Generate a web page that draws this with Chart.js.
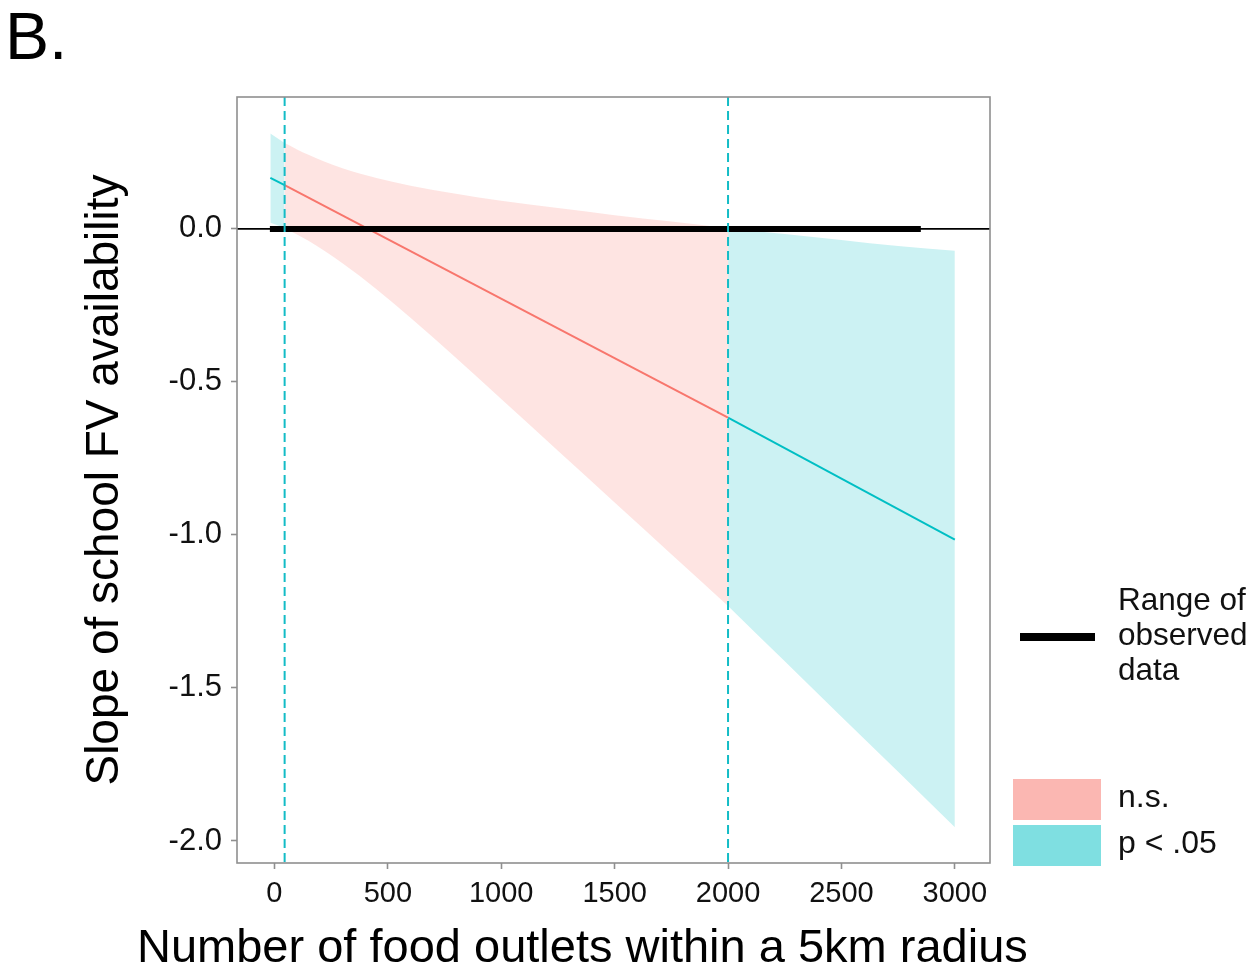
<!DOCTYPE html>
<html>
<head>
<meta charset="utf-8">
<script src="https://cdn.jsdelivr.net/npm/chart.js@4.4.0/dist/chart.umd.min.js"></script>
<style>
html,body{margin:0;padding:0;background:#fff;}
#wrap{position:relative;width:1260px;height:976px;overflow:hidden;font-family:"Liberation Sans",Arial,Helvetica,sans-serif;color:#000;}
#c{position:absolute;left:0;top:0;}
.lbl{position:absolute;white-space:nowrap;color:#111;}
.swatch{position:absolute;}
</style>
</head>
<body>
<div id="wrap">
<canvas id="c" width="1260" height="976"></canvas>
<div class="lbl" style="left:5px;top:0px;font-size:66px;line-height:72px;color:#000;">B.</div>
<div class="lbl" style="left:137px;top:922px;font-size:47px;line-height:47px;color:#000;">Number of food outlets within a 5km radius</div>
<div class="swatch" style="left:1020px;top:633px;width:75px;height:8px;background:#000;"></div>
<div class="lbl" style="left:1118px;top:582px;font-size:31.5px;line-height:35px;">Range of<br>observed<br>data</div>
<div class="swatch" style="left:1013px;top:779px;width:88px;height:41px;background:#FBB7B2;"></div>
<div class="swatch" style="left:1013px;top:825px;width:88px;height:41px;background:#7FDFE1;"></div>
<div class="lbl" style="left:1118px;top:779px;font-size:32px;line-height:35px;">n.s.</div>
<div class="lbl" style="left:1118px;top:825px;font-size:32px;line-height:35px;">p &lt; .05</div>
</div>
<script>
// ---- data ----
const xTicks = [0, 500, 1000, 1500, 2000, 2500, 3000];
const xTickLabels = ['0', '500', '1000', '1500', '2000', '2500', '3000'];
const yTicks = [-2.0, -1.5, -1.0, -0.5, 0.0];
const yTickLabels = ['-2.0', '-1.5', '-1.0', '-0.5', '0.0'];

// confidence band, significant (low end)
const xSigLow = [-18, 45];
const upperSigLow = [0.312, 0.281];
const lowerSigLow = [0.020, 0.003];

// confidence band, not significant
const xNS = [45, 150, 300, 450, 600, 800, 1000, 1250, 1500, 1750, 2000];
const upperNS = [0.281, 0.242, 0.198, 0.166, 0.141, 0.115, 0.092, 0.068, 0.045, 0.024, 0.002];
const lowerNS = [0.003, -0.039, -0.112, -0.197, -0.290, -0.421, -0.556, -0.725, -0.894, -1.063, -1.232];

// confidence band, significant (high end)
const xSigHigh = [2000, 2250, 2500, 2750, 3000];
const upperSigHigh = [0.002, -0.017, -0.036, -0.056, -0.071];
const lowerSigHigh = [-1.232, -1.413, -1.594, -1.774, -1.955];

// simple slope line
const xSlopeLow = [-18, 45];
const slopeLow = [0.167, 0.143];
const xSlopeNS = [45, 2000];
const slopeNS = [0.143, -0.617];
const xSlopeHigh = [2000, 3000];
const slopeHigh = [-0.617, -1.015];

// range of observed data
const xObserved = [-20, 2850];
const yObserved = [0, 0];

// Johnson-Neyman boundaries and reference line
const jnBoundaries = [45, 2000];
const refLineY = 0;

const xRange = [-165, 3155];
const yRange = [-2.072, 0.431];

// ---- colours ----
const PINK = '#F8766D', CYAN = '#00BFC4';
const PINK_FILL = 'rgba(248,118,109,0.2)', CYAN_FILL = 'rgba(0,191,196,0.2)';

const pts = (xs, ys) => xs.map((x, i) => ({x: x, y: ys[i]}));
const band = (xs, lo, up, fill) => [
  {data: pts(xs, lo), borderWidth: 0, pointRadius: 0, fill: false, borderColor: 'rgba(0,0,0,0)', cubicInterpolationMode: 'monotone'},
  {data: pts(xs, up), borderWidth: 0, pointRadius: 0, fill: '-1', backgroundColor: fill, borderColor: 'rgba(0,0,0,0)', cubicInterpolationMode: 'monotone'}
];
const line = (xs, ys, col, w) => ({data: pts(xs, ys), borderColor: col, borderWidth: w, pointRadius: 0, fill: false, borderCapStyle: 'butt', tension: 0});

const datasets = [
  ...band(xSigLow, lowerSigLow, upperSigLow, CYAN_FILL),
  ...band(xNS, lowerNS, upperNS, PINK_FILL),
  ...band(xSigHigh, lowerSigHigh, upperSigHigh, CYAN_FILL),
];
datasets.forEach(d => d.order = 10);
datasets.push(Object.assign(line(xSlopeLow, slopeLow, CYAN, 2), {order: 2}));
datasets.push(Object.assign(line(xSlopeNS, slopeNS, PINK, 2), {order: 2}));
datasets.push(Object.assign(line(xSlopeHigh, slopeHigh, CYAN, 2), {order: 2}));
datasets.push(Object.assign(line(xObserved, yObserved, '#000', 6), {order: 1}));

const refPlugin = {
  id: 'refs',
  beforeDatasetsDraw(chart) {
    const {ctx, chartArea: a, scales: {x, y}} = chart;
    ctx.save();
    ctx.strokeStyle = '#000';
    ctx.lineWidth = 1.6;
    const py = y.getPixelForValue(refLineY);
    ctx.beginPath(); ctx.moveTo(a.left, py); ctx.lineTo(a.right, py); ctx.stroke();
    ctx.restore();
  },
  afterDatasetsDraw(chart) {
    const {ctx, chartArea: a, scales: {x, y}} = chart;
    ctx.save();
    ctx.strokeStyle = '#13BCC6';
    ctx.lineWidth = 2;
    ctx.setLineDash([9, 5]);
    jnBoundaries.forEach(v => {
      const px = x.getPixelForValue(v);
      ctx.beginPath(); ctx.moveTo(px, a.top); ctx.lineTo(px, a.bottom); ctx.stroke();
    });
    ctx.restore();
  },
  afterDraw(chart) {
    const {ctx, chartArea: a} = chart;
    ctx.save();
    ctx.strokeStyle = '#8f8f8f';
    ctx.lineWidth = 1.6;
    ctx.strokeRect(a.left, a.top, a.right - a.left, a.bottom - a.top);
    ctx.restore();
  }
};

const FONT = '"Liberation Sans", Arial, Helvetica, sans-serif';

new Chart(document.getElementById('c'), {
  type: 'line',
  data: {datasets: datasets},
  options: {
    responsive: false,
    animation: false,
    events: [],
    layout: {padding: {left: 0, top: 97, right: 270, bottom: 0}},
    plugins: {legend: {display: false}, tooltip: {enabled: false}},
    scales: {
      x: {
        type: 'linear', min: xRange[0], max: xRange[1],
        afterBuildTicks: s => { s.ticks = xTicks.map(v => ({value: v})); },
        afterFit: s => { s.height = 113; },
        ticks: {
          autoSkip: false, maxRotation: 0, padding: 8, color: '#111',
          font: {family: FONT, size: 29},
          callback: (v) => xTickLabels[xTicks.indexOf(v)]
        },
        grid: {drawOnChartArea: false, drawTicks: true, tickLength: 6, tickColor: '#8f8f8f', tickWidth: 1.6},
        border: {display: false},
        title: {display: false}
      },
      y: {
        type: 'linear', min: yRange[0], max: yRange[1],
        afterBuildTicks: s => { s.ticks = yTicks.map(v => ({value: v})); },
        afterFit: s => { s.width = 237; },
        ticks: {
          autoSkip: false, padding: 9, color: '#111',
          font: {family: FONT, size: 31},
          callback: (v) => yTickLabels[yTicks.indexOf(v)]
        },
        grid: {drawOnChartArea: false, drawTicks: true, tickLength: 6, tickColor: '#8f8f8f', tickWidth: 1.6},
        border: {display: false},
        title: {display: true, text: 'Slope of school FV availability', color: '#000',
                font: {family: FONT, size: 46}, padding: {top: 78, bottom: 0}}
      }
    }
  },
  plugins: [refPlugin]
});
</script>
</body>
</html>
